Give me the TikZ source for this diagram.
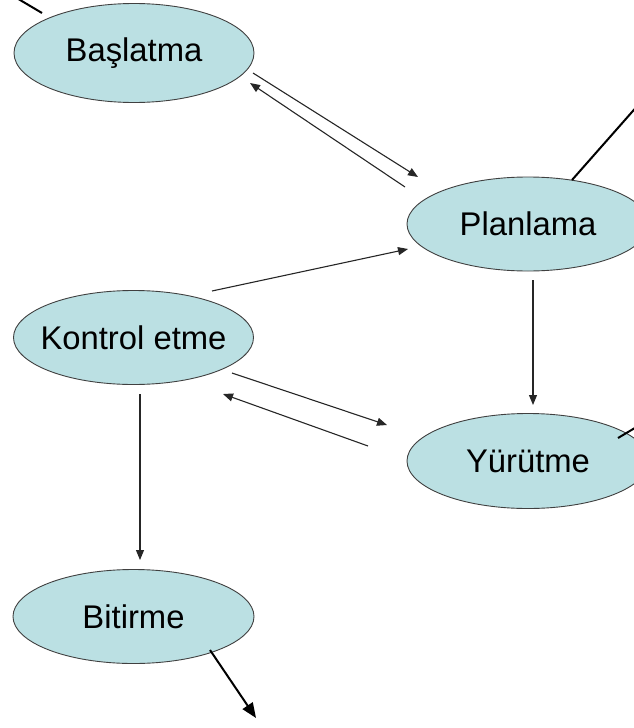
\documentclass[tikz,border=0pt]{standalone}
\usepackage{fontspec}
\setmainfont{Liberation Sans}
\usetikzlibrary{shapes.geometric,arrows.meta,calc}
\definecolor{ellfill}{HTML}{BBE0E3}
\definecolor{ellline}{HTML}{404040}
\tikzset{
  phase/.style={ellipse, draw=ellline, line width=0.9pt, fill=ellfill, inner sep=0pt,
    minimum width=240pt, minimum height=94pt, font=\fontsize{32.8}{38}\selectfont},
  thinarr/.style={line width=1.1pt, draw=black!85, -{Triangle[length=10pt,width=8pt]}},
  thickline/.style={line width=2pt, draw=black},
  thickarr/.style={line width=2pt, draw=black, -{Triangle[length=15pt,width=12pt]}}
}
\begin{document}
\begin{tikzpicture}[x=1pt,y=-1pt]
\useasboundingbox (0,0) rectangle (634,728);
\clip (0,0) rectangle (634,728);
% free-end lines (drawn first, behind ellipses)
\coordinate (tl) at (-12,-19);
\coordinate (tr) at (662,78);
\coordinate (yr) at (655,416);
\coordinate (bt) at (256,718);

\node[phase, minimum height=99pt] (bas) at (134,53) {\makebox[0pt]{Başlatma}};
\node[phase, minimum width=242pt] (plan) at (528,224) {\makebox[0pt]{Planlama}};
\node[phase] (kon) at (133.5,337.5) {\makebox[0pt]{Kontrol etme}};
\node[phase, minimum width=242pt, minimum height=95pt] (yur) at (528,461) {\makebox[0pt]{Yürütme}};
\node[phase, minimum width=241pt] (bit) at (133.5,616.5) {\makebox[0pt]{Bitirme}};

\draw[thickline] (tl) -- ($(bas.center)+(-92,-40)$);
\draw[thickline] ($(plan.center)+(44,-44)$) -- (tr);
\draw[thickline] ($(yur.center)+(90,-23)$) -- (yr);
\draw[thickarr] ($(bit.center)+(76.5,33.5)$) -- (bt);

% thin arrows
\draw[thinarr] ($(bas.center)+(119,20)$) -- ($(plan.center)+(-110,-47)$);
\draw[thinarr] ($(plan.center)+(-123,-37)$) -- ($(bas.center)+(116,30)$);
\draw[thinarr] ($(kon.center)+(78.5,-46.5)$) -- ($(plan.center)+(-120,25)$);
\draw[thinarr] ($(plan.center)+(5,56)$) -- ($(yur.center)+(5,-56)$);
\draw[thinarr] ($(kon.center)+(98.5,35.5)$) -- ($(yur.center)+(-141,-36)$);
\draw[thinarr] ($(yur.center)+(-160,-15)$) -- ($(kon.center)+(89.5,56.5)$);
\draw[thinarr] ($(kon.center)+(6.5,56.5)$) -- ($(bit.center)+(6.5,-56.5)$);
\end{tikzpicture}
\end{document}
